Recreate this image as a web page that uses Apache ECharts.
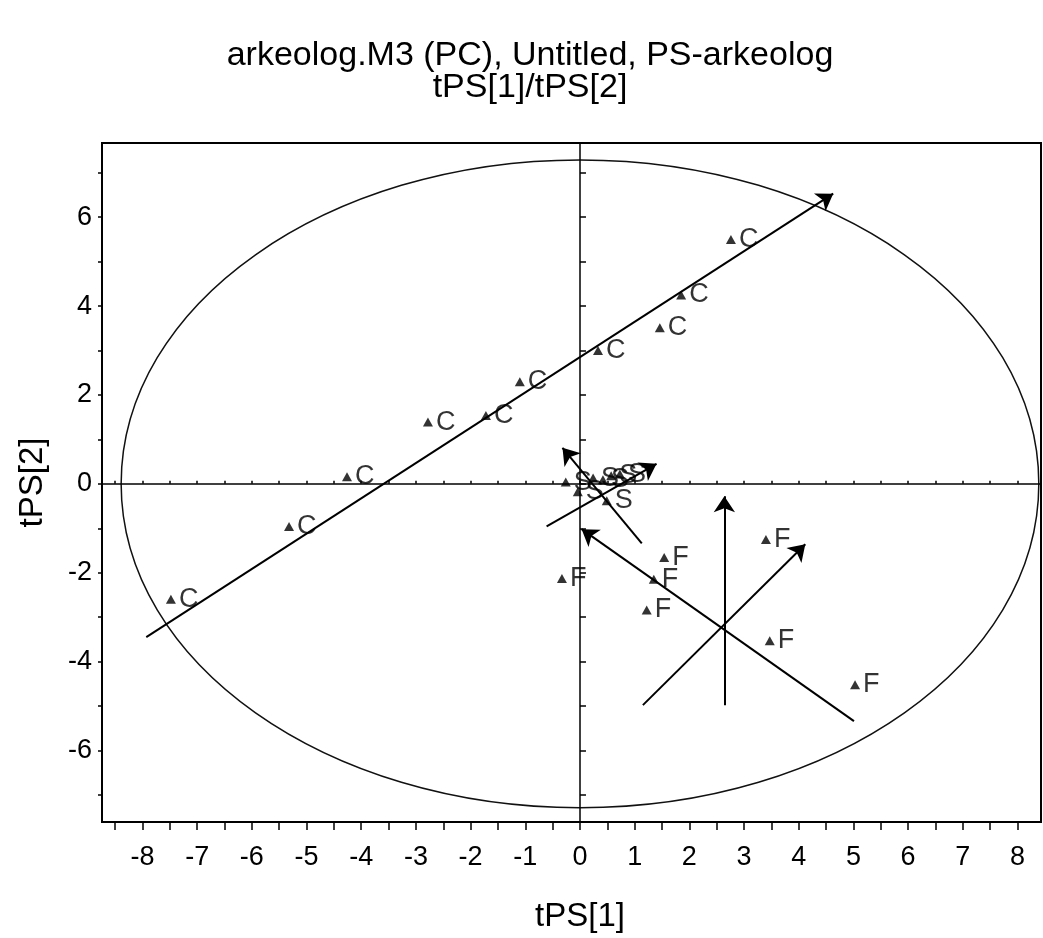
<!DOCTYPE html>
<html>
<head>
<meta charset="utf-8">
<script src="https://cdn.jsdelivr.net/npm/echarts@6/dist/echarts.min.js"></script>
<style>
  html, body { margin: 0; padding: 0; background: #ffffff; }
  #chart { width: 1043px; height: 938px; }
</style>
</head>
<body>
<div id="chart"></div>
<script>
// Score plot tPS[1] vs tPS[2] with class labels, Hotelling ellipse and direction arrows
const FONT = "'Liberation Sans', Arial, sans-serif";

// Axis ranges and ticks
const X_RANGE = [-8.74, 8.43];
const Y_RANGE = [-7.61, 7.67];
const X_TICKS = [-8.5, -8, -7.5, -7, -6.5, -6, -5.5, -5, -4.5, -4, -3.5, -3, -2.5, -2, -1.5, -1, -0.5,
                 0, 0.5, 1, 1.5, 2, 2.5, 3, 3.5, 4, 4.5, 5, 5.5, 6, 6.5, 7, 7.5, 8];
const X_TICK_LABELS = [-8, -7, -6, -5, -4, -3, -2, -1, 0, 1, 2, 3, 4, 5, 6, 7, 8];
const Y_TICKS = [-7, -6, -5, -4, -3, -2, -1, 0, 1, 2, 3, 4, 5, 6, 7];
const Y_TICK_LABELS = [-6, -4, -2, 0, 2, 4, 6];

// Observation scores, grouped by class
const C_SCORES = [[2.76, 5.50], [1.85, 4.25], [1.46, 3.51], [0.33, 3.00], [-1.10, 2.30],
                  [-1.72, 1.54], [-2.78, 1.39], [-4.26, 0.16], [-5.32, -0.96], [-7.48, -2.60]];
const F_SCORES = [[-0.33, -2.13], [1.54, -1.66], [1.35, -2.15], [1.22, -2.84],
                  [3.40, -1.25], [3.47, -3.53], [5.03, -4.52]];
const S_SCORES = [[-0.26, 0.04], [-0.04, -0.18], [0.24, 0.13], [0.42, 0.09],
                  [0.57, 0.18], [0.73, 0.22], [0.49, -0.38]];

// Hotelling T2 ellipse semi-axes (tPS[1], tPS[2])
const ELLIPSE_RADII = [8.39, 7.29];

// Direction arrows: tail and head points
const ARROW_FROM = [[-7.93, -3.45], [-0.61, -0.96], [1.13, -1.34], [5.01, -5.34], [2.64, -4.98], [1.15, -4.98]];
const ARROW_TO   = [[4.63, 6.53], [1.40, 0.45], [-0.32, 0.81], [0.03, -1.02], [2.64, -0.28], [4.12, -1.36]];

const chart = echarts.init(document.getElementById('chart'), null, { renderer: 'canvas' });

function scoreSeries(name, data) {
  return {
    name: name,
    type: 'scatter',
    data: data,
    symbol: 'triangle',
    symbolSize: [10, 9],
    itemStyle: { color: '#000000' },
    label: {
      show: true,
      formatter: name,
      position: 'right',
      distance: 3,
      fontFamily: FONT,
      fontSize: 27,
      color: '#000000'
    },
    z: 5,
    animation: false
  };
}

const axisText = { fontFamily: FONT, color: '#000000' };

const option = {
  backgroundColor: '#ffffff',
  animation: false,
  title: {
    text: 'arkeolog.M3 (PC), Untitled, PS-arkeolog\ntPS[1]/tPS[2]',
    left: 525,
    textAlign: 'center',
    top: 35,
    textStyle: { fontFamily: FONT, fontSize: 34, fontWeight: 'normal', color: '#000000', lineHeight: 32 }
  },
  grid: {
    left: 102, right: 2, top: 143, bottom: 112,
    show: true, borderColor: '#000000', borderWidth: 2, backgroundColor: 'transparent'
  },
  xAxis: [
    {
      type: 'value', min: X_RANGE[0], max: X_RANGE[1], position: 'bottom',
      axisLine: { show: true, onZero: false, lineStyle: { color: '#000000', width: 2 } },
      axisTick: { show: true, customValues: X_TICKS, length: 8, lineStyle: { color: '#000000', width: 1.5 } },
      axisLabel: { customValues: X_TICK_LABELS, margin: 22, fontSize: 27, ...axisText },
      splitLine: { show: false },
      name: 'tPS[1]', nameLocation: 'middle', nameGap: 78,
      nameTextStyle: { fontSize: 33, padding: [0, 0, 0, 17], ...axisText }
    },
    {
      type: 'value', min: X_RANGE[0], max: X_RANGE[1], position: 'bottom',
      axisLine: { show: false },
      axisTick: { show: true, inside: true, customValues: X_TICKS, length: 3, lineStyle: { color: '#000000', width: 1.5 } },
      axisLabel: { show: false },
      splitLine: { show: false }
    }
  ],
  yAxis: [
    {
      type: 'value', min: Y_RANGE[0], max: Y_RANGE[1], position: 'left',
      axisLine: { show: true, onZero: false, lineStyle: { color: '#000000', width: 2 } },
      axisTick: { show: true, customValues: Y_TICKS, length: 4, lineStyle: { color: '#000000', width: 1.5 } },
      axisLabel: { customValues: Y_TICK_LABELS, margin: 10, fontSize: 27, ...axisText },
      splitLine: { show: false },
      name: 'tPS[2]', nameLocation: 'middle', nameGap: 53,
      nameTextStyle: { fontSize: 33, ...axisText }
    },
    {
      type: 'value', min: Y_RANGE[0], max: Y_RANGE[1], position: 'left',
      axisLine: { show: false },
      axisTick: { show: true, inside: true, customValues: Y_TICKS, length: 6, lineStyle: { color: '#000000', width: 1.5 } },
      axisLabel: { show: false },
      splitLine: { show: false }
    }
  ],
  series: [
    {
      // Hotelling ellipse centred on the origin
      type: 'custom',
      silent: true,
      z: 1,
      data: [[0, 0, ELLIPSE_RADII[0], ELLIPSE_RADII[1]]],
      renderItem: function (params, api) {
        const c = api.coord([api.value(0), api.value(1)]);
        const s = api.size([api.value(2), api.value(3)]);
        return {
          type: 'ellipse',
          shape: { cx: c[0], cy: c[1], rx: s[0], ry: s[1] },
          style: { fill: 'none', stroke: '#111111', lineWidth: 1.5 }
        };
      }
    },
    {
      // Origin cross lines
      type: 'scatter',
      data: [],
      silent: true,
      markLine: {
        silent: true,
        symbol: ['none', 'none'],
        label: { show: false },
        lineStyle: { color: '#000000', width: 1.5, type: 'solid' },
        data: [{ xAxis: 0 }, { yAxis: 0 }]
      }
    },
    {
      type: 'lines',
      coordinateSystem: 'cartesian2d',
      symbol: ['none', 'arrow'],
      symbolSize: 16,
      silent: true,
      z: 4,
      lineStyle: { color: '#000000', width: 2, opacity: 1, curveness: 0 },
      data: ARROW_FROM.map(function (p, i) { return { coords: [p, ARROW_TO[i]] }; })
    },
    scoreSeries('C', C_SCORES),
    scoreSeries('F', F_SCORES),
    scoreSeries('S', S_SCORES)
  ]
};

chart.setOption(option);
</script>
</body>
</html>
